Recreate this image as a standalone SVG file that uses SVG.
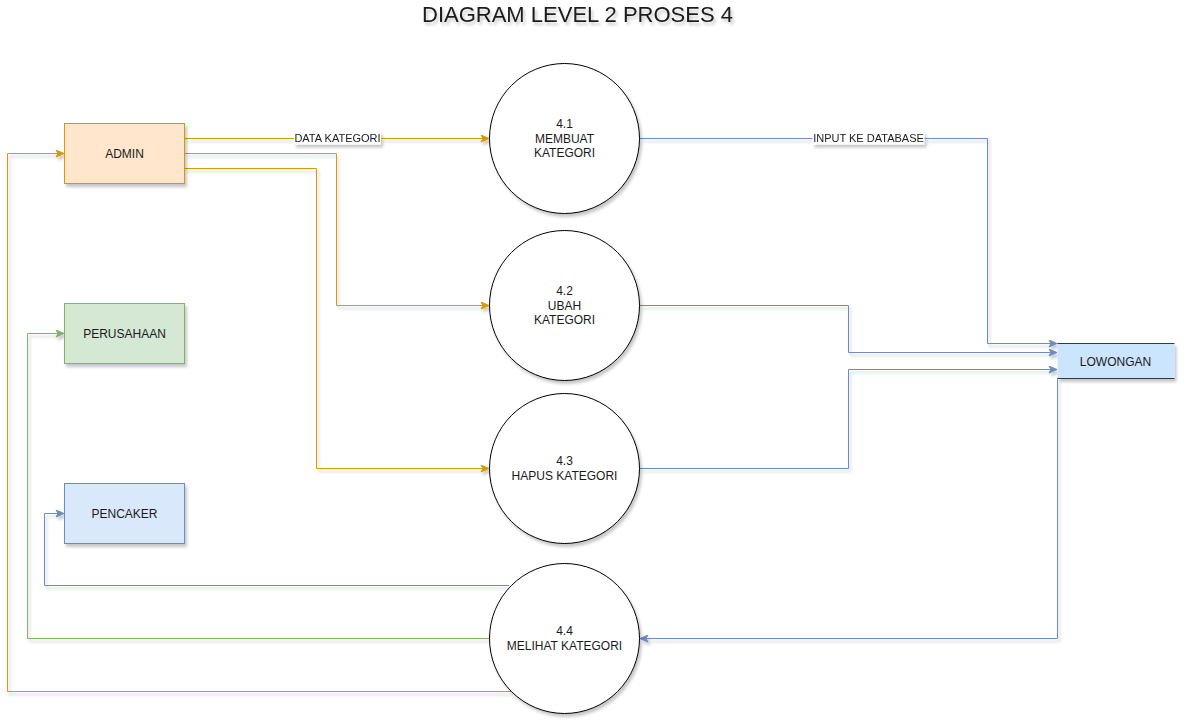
<svg xmlns="http://www.w3.org/2000/svg" width="1186" height="725" viewBox="0 0 1186 725">
<defs>
<filter id="sh" x="-20%" y="-20%" width="140%" height="140%">
<feDropShadow dx="2" dy="3" stdDeviation="1.5" flood-color="#000" flood-opacity="0.22"/>
</filter>
<marker id="aO" markerUnits="userSpaceOnUse" markerWidth="10" markerHeight="8" refX="9" refY="4" orient="auto"><path d="M1,0.5 L9,4 L1,7.5 L3,4 z" fill="#d79b00" stroke="#d79b00" stroke-width="1"/></marker>
<marker id="aB" markerUnits="userSpaceOnUse" markerWidth="10" markerHeight="8" refX="9" refY="4" orient="auto"><path d="M1,0.5 L9,4 L1,7.5 L3,4 z" fill="#6c8ebf" stroke="#6c8ebf" stroke-width="1"/></marker>
<marker id="aG" markerUnits="userSpaceOnUse" markerWidth="10" markerHeight="8" refX="9" refY="4" orient="auto"><path d="M1,0.5 L9,4 L1,7.5 L3,4 z" fill="#82b366" stroke="#82b366" stroke-width="1"/></marker>
</defs>
<style>
text{font-family:"Liberation Sans",Arial,sans-serif;fill:#1a1a1a;}
.t{font-size:12px;text-anchor:middle;}
.l{font-size:11px;text-anchor:middle;}
.e{fill:none;stroke-width:1;}
.o{stroke:#d79b00;}
.b{stroke:#6c8ebf;}
.g{stroke:#82b366;}
.c{fill:#fff;stroke:#000;stroke-width:1;}
</style>
<rect width="1186" height="725" fill="#fff"/>
<text x="577.5" y="21.8" style="font-size:22px;text-anchor:middle;" filter="url(#sh)">DIAGRAM LEVEL 2 PROSES 4</text>

<g id="connectors" filter="url(#sh)">
<path class="e o" d="M184.5,138.5 H489" marker-end="url(#aO)"/>
<path class="e o" d="M184.5,153.5 H336.5 V305.5 H489" marker-end="url(#aO)"/>
<path class="e o" d="M184.5,168.5 H316.5 V468.5 H489" marker-end="url(#aO)"/>
<path class="e b" d="M639.5,138.5 H987.5 V343.5 H1057" marker-end="url(#aB)"/>
<path class="e b" d="M639.5,305.5 H848.5 V352.5 H1057" marker-end="url(#aB)"/>
<path class="e b" d="M639.5,468.5 H848.5 V369.5 H1057" marker-end="url(#aB)"/>
<path class="e b" d="M1057.5,378.5 V638.5 H640" marker-end="url(#aB)"/>
<path class="e b" d="M509,585.5 H44.5 V513.5 H64" marker-end="url(#aB)"/>
<path class="e g" d="M489.5,638.5 H27.5 V333.5 H64" marker-end="url(#aG)"/>
<path class="e o" d="M511,691.5 H7.5 V153.5 H64" marker-end="url(#aO)"/>
<rect x="294" y="131.5" width="87" height="13" fill="#fff"/>
<text class="l" x="337.5" y="142">DATA KATEGORI</text>
<rect x="812.5" y="131.5" width="112" height="13" fill="#fff"/>
<text class="l" x="868.5" y="142">INPUT KE DATABASE</text>
</g>

<g id="admin">
<rect x="64.5" y="123.5" width="120" height="60" fill="#ffe6cc" stroke="#d79b00" filter="url(#sh)"/>
<text class="t" x="124.5" y="157.5">ADMIN</text>
</g>
<g id="perusahaan">
<rect x="64.5" y="303.5" width="120" height="60" fill="#d5e8d4" stroke="#82b366" filter="url(#sh)"/>
<text class="t" x="124.5" y="337.5">PERUSAHAAN</text>
</g>
<g id="pencaker">
<rect x="64.5" y="483.5" width="120" height="60" fill="#dae8fc" stroke="#6c8ebf" filter="url(#sh)"/>
<text class="t" x="124.5" y="517.5">PENCAKER</text>
</g>
<g id="lowongan">
<g filter="url(#sh)">
<rect x="1057.5" y="343.5" width="117" height="35" fill="#cce5ff"/>
<path d="M1057.5,343.5 H1174.5 M1057.5,378.5 H1174.5" stroke="#36393d" fill="none"/>
</g>
<text class="t" x="1115.5" y="365.5">LOWONGAN</text>
</g>
<g id="p41">
<circle class="c" cx="564.5" cy="138.5" r="75" filter="url(#sh)"/>
<text class="t" x="564.5" y="128">4.1</text>
<text class="t" x="564.5" y="142.5">MEMBUAT</text>
<text class="t" x="564.5" y="157">KATEGORI</text>
</g>
<g id="p42">
<circle class="c" cx="564.5" cy="305.5" r="75" filter="url(#sh)"/>
<text class="t" x="564.5" y="295">4.2</text>
<text class="t" x="564.5" y="309.5">UBAH</text>
<text class="t" x="564.5" y="324">KATEGORI</text>
</g>
<g id="p43">
<circle class="c" cx="564.5" cy="468.5" r="75" filter="url(#sh)"/>
<text class="t" x="564.5" y="465">4.3</text>
<text class="t" x="564.5" y="479.5">HAPUS KATEGORI</text>
</g>
<g id="p44">
<circle class="c" cx="564.5" cy="638.5" r="75" filter="url(#sh)"/>
<text class="t" x="564.5" y="635">4.4</text>
<text class="t" x="564.5" y="649.5">MELIHAT KATEGORI</text>
</g>
</svg>
